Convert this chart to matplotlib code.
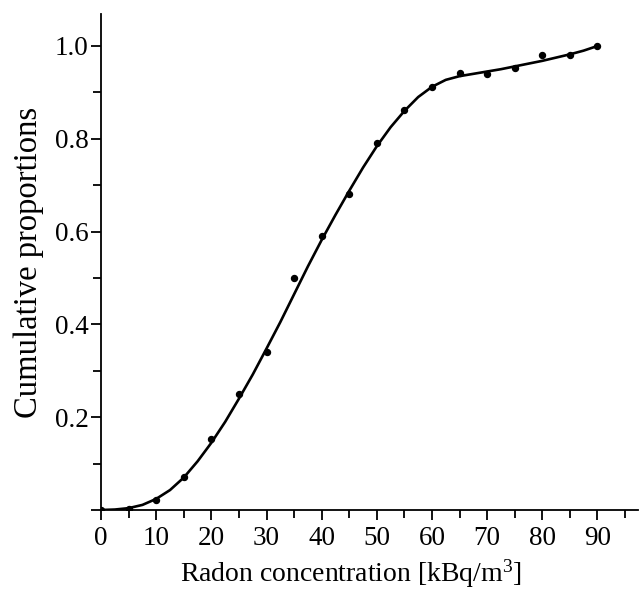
import numpy as np
import matplotlib.pyplot as plt
from matplotlib.ticker import MultipleLocator, FixedLocator

# observed cumulative proportions
conc = [0, 5, 10, 15, 20, 25, 30, 35, 40, 45, 50, 55, 60, 65, 70, 75, 80, 85, 90]
prop = [0.0, 0.003, 0.022, 0.071, 0.153, 0.25, 0.34, 0.50, 0.59, 0.68, 0.79,
        0.862, 0.912, 0.942, 0.94, 0.953, 0.98, 0.98, 1.0]

# fitted curve
fit_x = [0, 2.5, 5, 7.5, 10, 12.5, 15, 17.5, 20, 22.5, 25, 27.5, 30, 32.5, 35,
         37.5, 40, 42.5, 45, 47.5, 50, 52.5, 55, 57.5, 60, 62.5, 65, 67.5, 70,
         72.5, 75, 77.5, 80, 82.5, 85, 87.5, 90]
fit_y = [0.0, 0.001, 0.004, 0.011, 0.024, 0.043, 0.07, 0.105, 0.145, 0.19,
         0.24, 0.292, 0.348, 0.405, 0.465, 0.525, 0.582, 0.636, 0.688, 0.738,
         0.784, 0.825, 0.86, 0.89, 0.912, 0.927, 0.935, 0.94, 0.945, 0.95,
         0.956, 0.962, 0.968, 0.975, 0.982, 0.99, 1.0]

plt.rcParams['font.family'] = ['Liberation Serif', 'DejaVu Serif']
plt.rcParams['mathtext.fontset'] = 'custom'
plt.rcParams['mathtext.rm'] = 'Liberation Serif'

fig = plt.figure(figsize=(6.44, 5.90), dpi=100)
ax = fig.add_axes([0.157, 0.1356, 0.834, 0.8407])

ax.plot(fit_x, fit_y, color='black', lw=1.9, solid_capstyle='round')
ax.plot(conc, prop, 'o', color='black', markersize=4.3)

ax.set_xlim(0, 97.4)
ax.set_ylim(0, 1.069)
ax.spines['top'].set_visible(False)
ax.spines['right'].set_visible(False)
ax.spines['left'].set_linewidth(1.3)
ax.spines['bottom'].set_linewidth(1.3)

ax.set_xticks([0, 10, 20, 30, 40, 50, 60, 70, 80, 90])
ax.xaxis.set_minor_locator(MultipleLocator(5))
ax.set_yticks([0, 0.2, 0.4, 0.6, 0.8, 1.0])
ax.set_yticklabels(['', '0.2', '0.4', '0.6', '0.8', '1.0'])
ax.yaxis.set_minor_locator(FixedLocator([0.1, 0.3, 0.5, 0.7, 0.9]))

ax.tick_params(which='both', direction='out', width=1.3, labelsize=19.5)
ax.tick_params(which='major', length=7.5)
ax.tick_params(which='minor', length=6)
ax.tick_params(axis='x', which='major', pad=4)
ax.tick_params(axis='y', which='major', pad=1.5)

ax.set_xlabel('Radon concentration [kBq/m$\\mathrm{^3}$]', fontsize=20)
ax.xaxis.set_label_coords(0.466, -0.095)
ax.set_ylabel('Cumulative proportions', fontsize=23.5, labelpad=8)

plt.savefig('out.png', dpi=100)
